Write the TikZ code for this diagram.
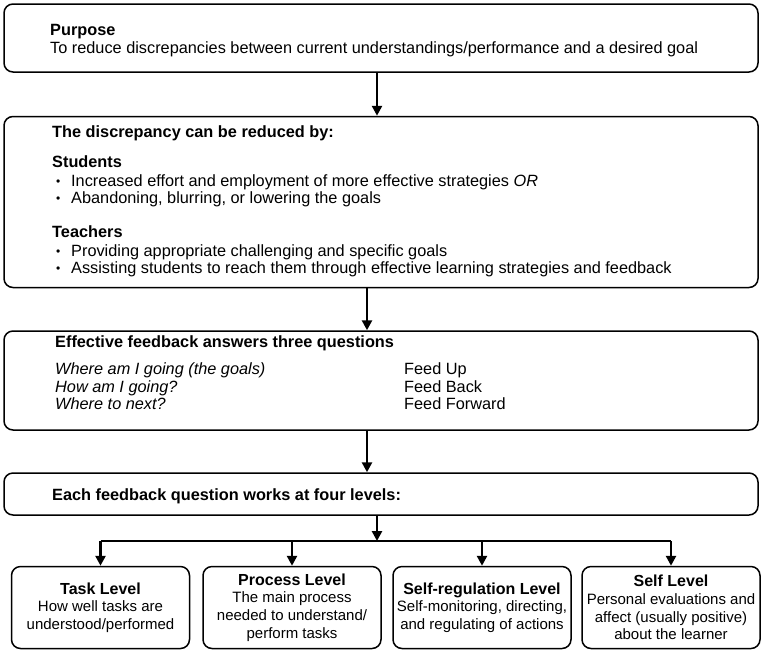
\documentclass[tikz,border=0pt]{standalone}
\usepackage{fontspec}
\setmainfont{Liberation Sans}
\usepackage{tikz}
\usetikzlibrary{positioning,arrows.meta}
\tikzset{panel/.style={draw,rounded corners=9pt,line width=1.5pt,inner sep=0pt},
    lvl/.style={panel,minimum width=178pt,minimum height=82pt,align=center,font=\fontsize{15}{17.6}\selectfont},
    txt/.style={anchor=base west,inner sep=0pt},
    flow/.style={line width=2.8pt,-{Triangle[length=10pt,width=10pt]}}}
\newcommand{\bitem}{\makebox[15pt][l]{\raisebox{1pt}{\fontsize{12}{12}\selectfont\textbullet}}}
\newcommand{\lvtitle}[1]{{\fontsize{16}{17.6}\selectfont\textbf{#1}}}

\begin{document}
\begin{tikzpicture}[x=1pt,y=-1pt,every node/.style={font=\fontsize{16.3}{17.6}\selectfont}]
    \useasboundingbox (0,0) rectangle (767,654);

    % boxes
    \node[panel,minimum width=754pt,minimum height=68pt] (purpose) at (381,38) {};
    \node[panel,minimum width=754pt,minimum height=171pt] (reduce) at (381,202) {};
    \node[panel,minimum width=754pt,minimum height=99pt] (questions) at (381,380.5) {};
    \node[panel,minimum width=754pt,minimum height=42pt] (levels) at (381,494) {};

    % text of the boxes
    \node[txt] (purposeT) at (50,35) {\textbf{Purpose}};
    \node[txt] (purposeL) at (50,53) {To reduce discrepancies between current understandings/performance and a desired goal};

    \node[txt] (reduceT) at (52,137) {\textbf{The discrepancy can be reduced by:}};
    \node[txt] (students) at (52,167) {\textbf{Students}};
    \node[txt] (studA) at (56,186) {\bitem Increased effort and employment of more effective strategies \textit{OR}};
    \node[txt] (studB) at (56,203) {\bitem Abandoning, blurring, or lowering the goals};
    \node[txt] (teachers) at (52,237) {\textbf{Teachers}};
    \node[txt] (teachA) at (56,256) {\bitem Providing appropriate challenging and specific goals};
    \node[txt] (teachB) at (56,273) {\bitem Assisting students to reach them through effective learning strategies and feedback};

    \node[txt] (questionsT) at (55,347) {\textbf{Effective feedback answers three questions}};
    \node[txt] (qUp) at (55,374) {\textit{Where am I going (the goals)}};
    \node[txt] (qBack) at (55,392) {\textit{How am I going?}};
    \node[txt] (qFwd) at (55,409) {\textit{Where to next?}};
    \node[txt] (feedUp) at (404,374) {Feed Up};
    \node[txt] (feedBack) at (404,392) {Feed Back};
    \node[txt] (feedFwd) at (404,409) {Feed Forward};

    \node[txt] (levelsT) at (52,500) {\textbf{Each feedback question works at four levels:}};

    % the four levels
    \node[lvl] (task) at (100.5,607.5) {\lvtitle{Task Level}\\How well tasks are\\understood/performed};
    \node[lvl] (process) at (292,607.5) {\lvtitle{Process Level}\\The main process\\needed to understand/\\perform tasks};
    \node[lvl] (selfreg) at (482,607.5) {\lvtitle{Self-regulation Level}\\Self-monitoring, directing,\\and regulating of actions};
    \node[lvl] (self) at (671,607.5) {\lvtitle{Self Level}\\Personal evaluations and\\affect (usually positive)\\about the learner};

    % arrows
    \coordinate (bar) at (377,541);
    \draw [flow] ([xshift=-4pt]purpose.south) -- ([xshift=-4pt]reduce.north);
    \draw [flow] ([xshift=-14pt]reduce.south) -- ([xshift=-14pt]questions.north);
    \draw [flow] ([xshift=-14pt]questions.south) -- ([xshift=-14pt]levels.north);
    \draw [flow] (levels.south -| bar) -- (bar);
    \draw [line width=2.8pt] (task.north |- bar) -- (self.north |- bar);
    \foreach \lv in {task,process,selfreg,self}
        \draw [flow] (\lv.north |- bar) -- (\lv.north);
\end{tikzpicture}
\end{document}
